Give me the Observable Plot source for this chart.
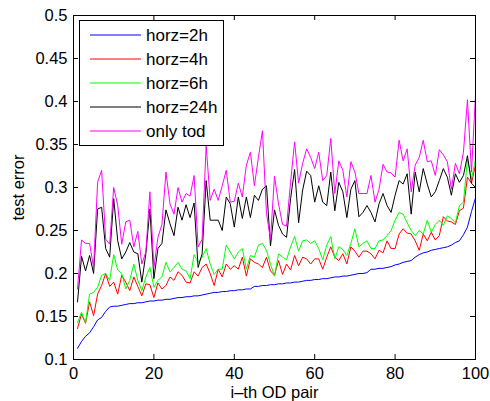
<!DOCTYPE html>
<html><head><meta charset="utf-8">
<script src="https://cdn.jsdelivr.net/npm/d3@7"></script>
<script src="https://cdn.jsdelivr.net/npm/@observablehq/plot@0.6"></script>
<style>body{margin:0;background:#fff;}</style>
</head><body><div id="chart"></div>
<script>
const seriesNames = ["horz=2h", "horz=4h", "horz=6h", "horz=24h", "only tod"];
const seriesColors = ["#0000ff", "#ff0000", "#00ff00", "#000000", "#ff00ff"];

const horz2h = [0.113,0.121,0.127,0.131,0.138,0.146,0.149,0.156,0.161,0.162,
0.162,0.163,0.164,0.165,0.165,0.166,0.166,0.167,0.168,0.168,
0.169,0.169,0.170,0.170,0.171,0.172,0.172,0.173,0.173,0.174,
0.174,0.175,0.176,0.177,0.178,0.178,0.179,0.179,0.180,0.180,
0.181,0.181,0.182,0.182,0.185,0.185,0.186,0.186,0.187,0.187,
0.188,0.188,0.189,0.189,0.190,0.190,0.191,0.192,0.192,0.193,
0.193,0.194,0.194,0.195,0.196,0.196,0.197,0.197,0.198,0.199,
0.200,0.200,0.201,0.205,0.205,0.206,0.206,0.207,0.208,0.210,
0.211,0.213,0.214,0.215,0.219,0.222,0.224,0.225,0.227,0.228,
0.229,0.230,0.231,0.233,0.236,0.238,0.245,0.254,0.272,0.288];

const horz4h = [0.136,0.153,0.142,0.167,0.151,0.176,0.186,0.200,0.185,0.190,
0.176,0.198,0.190,0.180,0.196,0.185,0.174,0.188,0.187,0.172,
0.189,0.182,0.186,0.196,0.192,0.202,0.198,0.190,0.189,0.202,
0.197,0.207,0.211,0.200,0.186,0.205,0.196,0.211,0.205,0.209,
0.205,0.219,0.197,0.217,0.213,0.211,0.207,0.219,0.203,0.198,
0.215,0.199,0.211,0.204,0.221,0.209,0.219,0.217,0.211,0.217,
0.217,0.205,0.219,0.231,0.219,0.215,0.223,0.211,0.231,0.226,
0.219,0.226,0.226,0.223,0.217,0.227,0.224,0.238,0.229,0.229,
0.246,0.252,0.247,0.246,0.238,0.227,0.246,0.238,0.248,0.239,
0.244,0.266,0.261,0.260,0.257,0.273,0.276,0.312,0.305,0.326];

const horz6h = [0.143,0.155,0.143,0.176,0.178,0.184,0.198,0.200,0.192,0.222,
0.204,0.200,0.182,0.192,0.211,0.192,0.180,0.196,0.207,0.184,
0.192,0.196,0.213,0.202,0.207,0.213,0.205,0.203,0.194,0.222,
0.213,0.219,0.229,0.211,0.199,0.205,0.205,0.233,0.225,0.217,
0.225,0.229,0.205,0.221,0.219,0.233,0.235,0.227,0.211,0.197,
0.223,0.219,0.216,0.231,0.243,0.226,0.238,0.239,0.235,0.238,
0.229,0.216,0.233,0.243,0.217,0.231,0.228,0.221,0.235,0.252,
0.231,0.235,0.238,0.229,0.229,0.238,0.239,0.244,0.250,0.262,
0.271,0.269,0.259,0.250,0.244,0.250,0.246,0.262,0.248,0.257,
0.262,0.256,0.267,0.264,0.259,0.279,0.283,0.333,0.310,0.333];

const horz24h = [0.167,0.220,0.203,0.221,0.200,0.275,0.277,0.229,0.219,0.287,
0.238,0.217,0.225,0.236,0.225,0.223,0.190,0.223,0.275,0.194,
0.229,0.235,0.274,0.258,0.244,0.277,0.262,0.280,0.265,0.282,
0.207,0.223,0.308,0.262,0.262,0.262,0.250,0.289,0.281,0.254,
0.289,0.264,0.289,0.265,0.291,0.285,0.298,0.302,0.232,0.274,
0.256,0.246,0.242,0.287,0.321,0.259,0.297,0.319,0.314,0.283,
0.302,0.283,0.279,0.318,0.273,0.306,0.295,0.265,0.298,0.308,
0.266,0.271,0.279,0.271,0.260,0.281,0.293,0.279,0.271,0.291,
0.308,0.304,0.316,0.269,0.318,0.295,0.322,0.304,0.289,0.295,
0.308,0.322,0.312,0.291,0.316,0.306,0.314,0.337,0.305,0.300];

const onlyTod = [0.182,0.239,0.235,0.235,0.207,0.306,0.320,0.240,0.234,0.300,
0.279,0.234,0.260,0.262,0.231,0.249,0.211,0.225,0.295,0.207,
0.242,0.257,0.318,0.281,0.269,0.300,0.283,0.293,0.290,0.314,
0.231,0.240,0.349,0.285,0.298,0.285,0.302,0.320,0.283,0.284,
0.305,0.289,0.326,0.341,0.302,0.335,0.366,0.270,0.240,0.313,
0.281,0.257,0.255,0.306,0.353,0.305,0.328,0.345,0.335,0.322,
0.341,0.308,0.314,0.357,0.293,0.331,0.320,0.289,0.330,0.318,
0.293,0.293,0.293,0.314,0.283,0.298,0.327,0.318,0.317,0.312,
0.355,0.331,0.345,0.295,0.326,0.335,0.355,0.330,0.331,0.314,
0.344,0.338,0.330,0.298,0.328,0.316,0.341,0.402,0.318,0.407];

const xTicks = [0, 20, 40, 60, 80, 100];
const xTickLabels = ["0", "20", "40", "60", "80", "100"];
const yTicks = [0.1, 0.15, 0.2, 0.25, 0.3, 0.35, 0.4, 0.45, 0.5];
const yTickLabels = ["0.1", "0.15", "0.2", "0.25", "0.3", "0.35", "0.4", "0.45", "0.5"];
const xLabel = "i\u2013th OD pair";
const yLabel = "test error";

const allSeries = [horz2h, horz4h, horz6h, horz24h, onlyTod];
const rows = [];
allSeries.forEach((arr, s) => arr.forEach((v, i) => rows.push({x: i + 1, y: v, series: seriesNames[s]})));

const W = 490, H = 401, mL = 73, mR = 15, mT = 15, mB = 42;
const fw = W - mL - mR, fh = H - mT - mB;
const tk = 5;
const font = "'Liberation Sans', Arial, Helvetica, sans-serif";

const chart = Plot.plot({
  width: W, height: H,
  marginLeft: mL, marginRight: mR, marginTop: mT, marginBottom: mB,
  style: {fontFamily: font, fontSize: "16.5px", background: "#fff", color: "#000"},
  x: {domain: [0, 100]},
  y: {domain: [0.1, 0.5]},
  color: {domain: seriesNames, range: seriesColors},
  marks: [
    Plot.line(rows, {x: "x", y: "y", z: "series", stroke: "series", strokeWidth: 1}),
    Plot.tickX(xTicks, {x: d => d, insetTop: fh - tk, stroke: "black"}),
    Plot.tickX(xTicks, {x: d => d, insetBottom: fh - tk, stroke: "black"}),
    Plot.tickY(yTicks, {y: d => d, insetRight: fw - tk, stroke: "black"}),
    Plot.tickY(yTicks, {y: d => d, insetLeft: fw - tk, stroke: "black"}),
    Plot.axisX(xTicks, {tickSize: 0, tickPadding: 8, tickFormat: d => xTickLabels[xTicks.indexOf(d)],
      label: xLabel, labelAnchor: "center", labelArrow: "none", labelOffset: 38.5}),
    Plot.axisY(yTicks, {tickSize: 0, tickPadding: 6, tickFormat: d => yTickLabels[yTicks.indexOf(d)],
      label: yLabel, labelAnchor: "center", labelArrow: "none", labelOffset: 61}),
    Plot.frame({stroke: "black"})
  ]
});
document.getElementById("chart").appendChild(chart);

// legend (MATLAB-style box inside the axes)
const svg = d3.select(chart);
const lg = svg.append("g").attr("font-family", font).attr("font-size", 17).attr("text-anchor", "start");
lg.append("rect").attr("x", 79.5).attr("y", 20.5).attr("width", 144).attr("height", 125)
  .attr("fill", "white").attr("stroke", "black");
seriesNames.forEach((n, i) => {
  const y = 35 + i * 24;
  lg.append("line").attr("x1", 90).attr("x2", 141).attr("y1", y).attr("y2", y)
    .attr("stroke", seriesColors[i]).attr("stroke-width", 1);
  lg.append("text").attr("x", 146).attr("y", y).attr("dy", "0.36em")
    .attr("text-anchor", "start").attr("fill", "black").text(n);
});
</script>
</body></html>
